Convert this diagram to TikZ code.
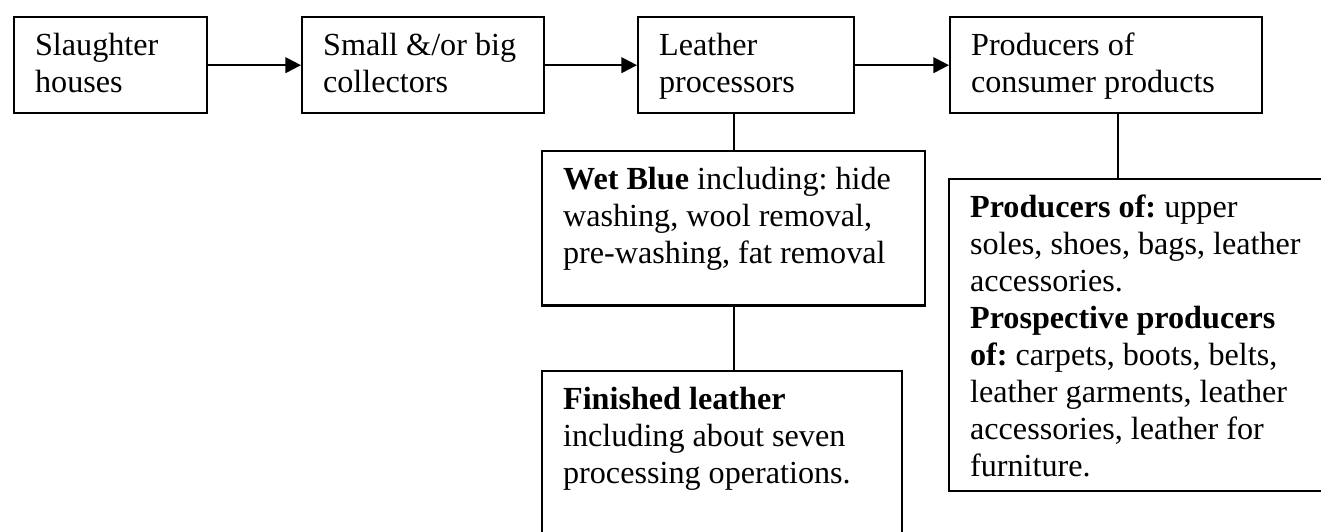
\documentclass[tikz,border=0pt]{standalone}
\usepackage{fontspec}
\setmainfont{Liberation Serif}
\usetikzlibrary{calc, positioning, arrows.meta}

\newcommand{\boxtext}[3]{\parbox[t][#2][t]{#1}{\raggedright\frenchspacing #3}}

\begin{document}
\begin{tikzpicture}[x=0.3731pt, y=-0.3731pt,
  stage/.style={draw, line width=0.9pt, anchor=north west, inner xsep=7.8pt, inner ysep=6pt,
    font=\fontsize{12}{13.8}\selectfont},
  flow/.style={line width=0.8pt, -{Triangle[length=5.8pt,width=5.8pt]}},
  link/.style={line width=0.8pt}]
\useasboundingbox (0,0) rectangle (1321,532);
\clip (0,0) rectangle (1321,532);
\node[stage] (sh) at (13,16) {\boxtext{56.4pt}{23.8pt}{Slaughter\\houses}};
\node[stage] (col) at (301,16) {\boxtext{74.7pt}{23.8pt}{Small \&/or big\\collectors}};
\node[stage] (lp) at (637,16) {\boxtext{65pt}{23.8pt}{Leather\\processors}};
\node[stage] (cp) at (949,16) {\boxtext{100.8pt}{23.8pt}{Producers of\\consumer products}};
\node[stage] (wet) at (541,150) {\boxtext{127.3pt}{45.5pt}{\textbf{Wet Blue} including: hide\\washing, wool removal,\\pre-washing, fat removal}};
\node[stage] (fin) at (541,370) {\boxtext{118.7pt}{62.6pt}{\textbf{Finished leather}\\including about seven\\processing operations.}};
\node[stage] (prod) at (948,178) {\boxtext{133.7pt}{104.4pt}{\textbf{Producers of:} upper\\soles, shoes, bags, leather\\accessories.\\\textbf{Prospective producers}\\\textbf{of:} carpets, boots, belts,\\leather garments, leather\\accessories, leather for\\furniture.}};
\coordinate (cpfoot) at ($(cp.south)+(12,0)$);
\draw[flow] (sh.east) -- (col.west);
\draw[flow] (col.east) -- (lp.west);
\draw[flow] (lp.east) -- (cp.west);
\draw[link] (lp.south -| wet.north) -- (wet.north);
\draw[link] (wet.south) -- (wet.south |- fin.north);
\draw[link] (cpfoot) -- (cpfoot |- prod.north);
\end{tikzpicture}
\end{document}
